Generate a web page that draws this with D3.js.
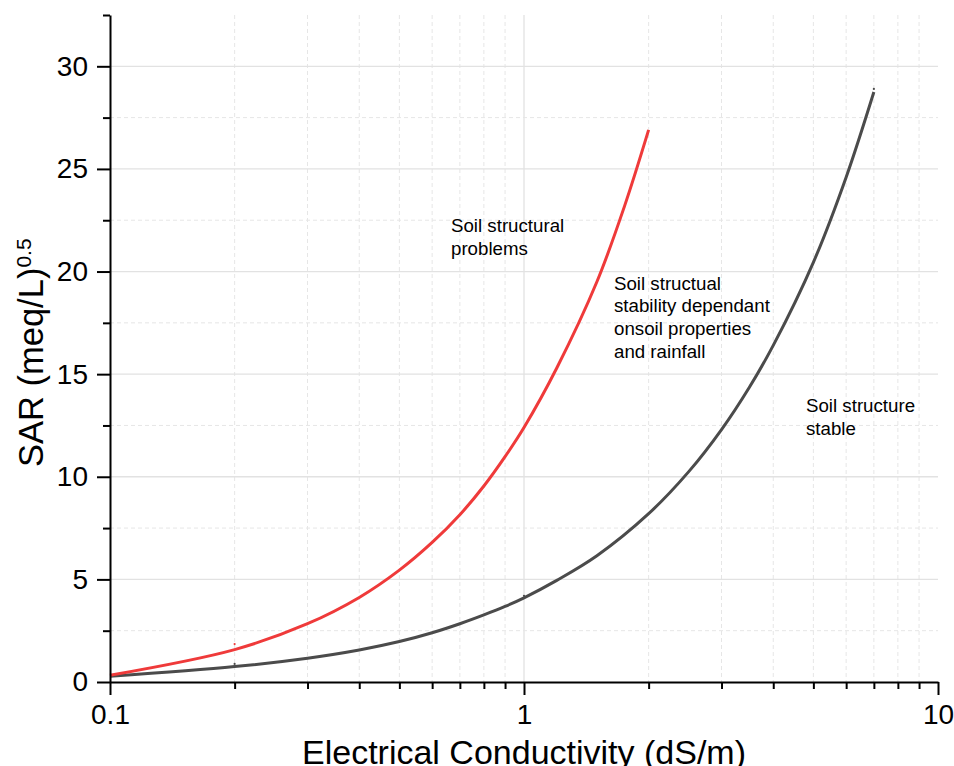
<!DOCTYPE html>
<html>
<head>
<meta charset="utf-8">
<script src="https://cdn.jsdelivr.net/npm/d3@7"></script>
<style>
  html, body { margin: 0; padding: 0; background: #fff; }
  svg { display: block; font-family: "Liberation Sans", Arial, sans-serif; }
</style>
</head>
<body>
<svg id="chart" width="954" height="766"></svg>
<script>
// ---- data ----
const redEC  = [0.1, 0.2, 0.3, 0.4, 0.5, 0.6, 0.7, 0.8, 0.9, 1.0, 1.2, 1.5, 1.75, 2.0];
const redSAR = [0.33, 1.58, 2.84, 4.12, 5.45, 6.8, 8.15, 9.55, 10.98, 12.4, 15.3, 19.5, 23.2, 26.9];

const blackEC  = [0.1, 0.2, 0.3, 0.4, 0.5, 0.6, 0.7, 0.8, 0.9, 1.0, 1.2, 1.5, 2.0, 2.5, 3.0, 3.5, 4.0, 5.0, 6.0, 7.0];
const blackSAR = [0.28, 0.75, 1.16, 1.56, 1.97, 2.4, 2.84, 3.27, 3.68, 4.1, 4.95, 6.15, 8.2, 10.25, 12.3, 14.35, 16.4, 20.45, 24.6, 28.75];

// tiny stray data markers visible in the reference
const redMarkEC = [0.2];
const redMarkSAR = [1.85];
const blackMarkEC = [0.2, 1.0, 7.0];
const blackMarkSAR = [0.88, 4.2, 28.9];

const xTickValues = [0.1, 1, 10];
const xTickLabels = ["0.1", "1", "10"];
const yTickValues = [0, 5, 10, 15, 20, 25, 30];
const yMinorValues = [2.5, 7.5, 12.5, 17.5, 22.5, 27.5, 32.5];
const xMinorValues = [0.2,0.3,0.4,0.5,0.6,0.7,0.8,0.9,2,3,4,5,6,7,8,9];

const labels = [
  { x: 451, y: 232, lines: ["Soil structural", "problems"] },
  { x: 614, y: 289.5, lines: ["Soil structual", "stability dependant", "onsoil properties", "and rainfall"] },
  { x: 806, y: 412, lines: ["Soil structure", "stable"] }
];

const xTitle = "Electrical Conductivity (dS/m)";

// ---- chart ----
const svg = d3.select("#chart");
const x = d3.scaleLog().domain([0.1, 10]).range([110, 938]);
const y = d3.scaleLinear().domain([0, 32.5]).range([682, 15]);

const grid = svg.append("g");
grid.selectAll("line.vmin").data(xMinorValues).enter().append("line")
  .attr("x1", d => x(d)).attr("x2", d => x(d))
  .attr("y1", y(32.5)).attr("y2", y(0))
  .attr("stroke", "#e6e6e6").attr("stroke-width", 1).attr("stroke-dasharray", "4,3");
grid.selectAll("line.vmaj").data([1]).enter().append("line")
  .attr("x1", d => x(d)).attr("x2", d => x(d))
  .attr("y1", y(32.5)).attr("y2", y(0))
  .attr("stroke", "#e2e2e2").attr("stroke-width", 1.3);
grid.selectAll("line.hmin").data(yMinorValues.filter(v => v < 32.5)).enter().append("line")
  .attr("x1", x(0.1)).attr("x2", x(10))
  .attr("y1", d => y(d)).attr("y2", d => y(d))
  .attr("stroke", "#e6e6e6").attr("stroke-width", 1).attr("stroke-dasharray", "4,3");
grid.selectAll("line.hmaj").data(yTickValues.filter(v => v > 0)).enter().append("line")
  .attr("x1", x(0.1)).attr("x2", x(10))
  .attr("y1", d => y(d)).attr("y2", d => y(d))
  .attr("stroke", "#e2e2e2").attr("stroke-width", 1.3);

// curves
const line = d3.line().x(d => x(d[0])).y(d => y(d[1])).curve(d3.curveCatmullRom.alpha(0.5));
const redData = redEC.map((v, i) => [v, redSAR[i]]);
const blackData = blackEC.map((v, i) => [v, blackSAR[i]]);

svg.append("path").datum(blackData).attr("d", line)
  .attr("fill", "none").attr("stroke", "#4b4b4b").attr("stroke-width", 3);
svg.append("path").datum(redData).attr("d", line)
  .attr("fill", "none").attr("stroke", "#ef3a3a").attr("stroke-width", 3);

svg.selectAll("circle.rm").data(redMarkEC.map((v, i) => [v, redMarkSAR[i]])).enter().append("circle")
  .attr("cx", d => x(d[0])).attr("cy", d => y(d[1])).attr("r", 1.1).attr("fill", "#ef3a3a");
svg.selectAll("circle.bm").data(blackMarkEC.map((v, i) => [v, blackMarkSAR[i]])).enter().append("circle")
  .attr("cx", d => x(d[0])).attr("cy", d => y(d[1])).attr("r", 1.1).attr("fill", "#4b4b4b");

// x axis
const xAxis = d3.axisBottom(x).tickValues(xTickValues)
  .tickFormat((d, i) => xTickLabels[i]).tickSize(13).tickSizeOuter(0).tickPadding(9);
const gx = svg.append("g").attr("transform", `translate(0,${y(0)})`).call(xAxis);
gx.selectAll("text").attr("font-size", 28).attr("fill", "#000")
  .attr("font-family", "Liberation Sans, Arial, sans-serif");
const gxm = svg.append("g").attr("transform", `translate(0,${y(0)})`)
  .call(d3.axisBottom(x).tickValues(xMinorValues).tickSize(7).tickSizeOuter(0).tickFormat(""));
gxm.select(".domain").remove();

// y axis
const yAxis = d3.axisLeft(y).tickValues(yTickValues).tickSize(13).tickSizeOuter(0).tickPadding(9);
const gy = svg.append("g").attr("transform", `translate(${x(0.1)},0)`).call(yAxis);
gy.selectAll("text").attr("font-size", 28).attr("fill", "#000")
  .attr("font-family", "Liberation Sans, Arial, sans-serif");
const gym = svg.append("g").attr("transform", `translate(${x(0.1)},0)`)
  .call(d3.axisLeft(y).tickValues(yMinorValues).tickSize(7).tickSizeOuter(0).tickFormat(""));
gym.select(".domain").remove();

[gx, gxm, gy, gym].forEach(g => {
  g.selectAll("line").attr("stroke", "#000").attr("stroke-width", 2);
  g.selectAll(".domain").attr("stroke", "#000").attr("stroke-width", 2);
});

// axis titles
svg.append("text").attr("x", (x(0.1) + x(10)) / 2).attr("y", 764)
  .attr("text-anchor", "middle").attr("font-size", 34).attr("fill", "#000")
  .text(xTitle);

const yt = svg.append("text")
  .attr("transform", "translate(43,467) rotate(-90)")
  .attr("text-anchor", "start").attr("font-size", 34.5).attr("fill", "#000");
yt.append("tspan").text("SAR (meq/L)");
yt.append("tspan").attr("dy", -12).attr("font-size", 21).text("0.5");

// annotations
labels.forEach(l => {
  const t = svg.append("text").attr("font-size", 18.7).attr("fill", "#000");
  l.lines.forEach((s, i) => {
    t.append("tspan").attr("x", l.x).attr("y", l.y + i * 22.7).text(s);
  });
});
</script>
</body>
</html>
